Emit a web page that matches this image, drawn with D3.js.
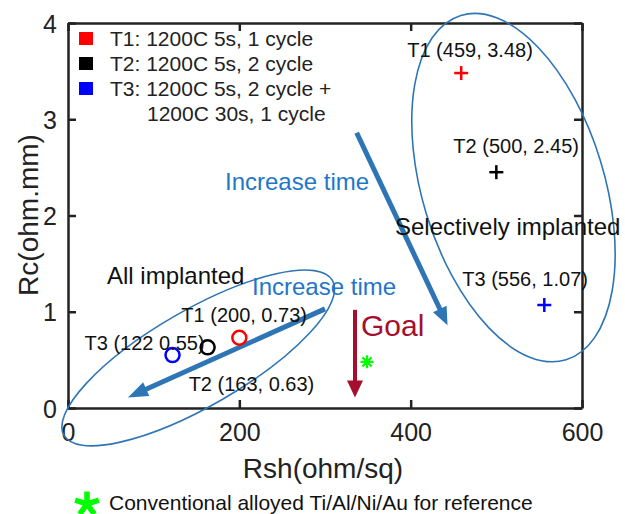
<!DOCTYPE html>
<html>
<head>
<meta charset="utf-8">
<script src="https://cdn.jsdelivr.net/npm/d3@7"></script>
<style>
body{margin:0;background:#fff}
svg{display:block;font-family:"Liberation Sans",Arial,sans-serif}
.axis path,.axis line{stroke:#222;stroke-width:2.5}
.axis text{font-size:25px;fill:#222;font-family:"Liberation Sans",Arial,sans-serif}
</style>
</head>
<body>
<div id="chart"></div>
<script>
// data
const seriesNames=["T1","T2","T3"]
const seriesColors=["#ff0000","#000000","#0000ff"]
const legendText=["T1: 1200C 5s, 1 cycle","T2: 1200C 5s, 2 cycle","T3: 1200C 5s, 2 cycle +"]
const legendExtra="1200C 30s, 1 cycle"
const selRsh=[459,500,556]
const selRc=[3.48,2.45,1.07]
const selLabels=["T1 (459, 3.48)","T2 (500, 2.45)","T3 (556, 1.07)"]
const allRsh=[200,163,122]
const allRc=[0.73,0.63,0.55]
const allLabels=["T1 (200, 0.73)","T2 (163, 0.63)","T3 (122 0.55)"]
const refRsh=[349]
const refRc=[0.48]
const xTicks=[0,200,400,600]
const yTicks=[0,1,2,3,4]

const width=625
const height=514

const svg=d3.select("#chart")
.append("svg")
.attr("width",width)
.attr("height",height)

const x=d3.scaleLinear().domain([0,600]).range([68,582])
const y=d3.scaleLinear().domain([0,4]).range([408,23])

// frame + ticks (inward)
const xAxis=svg.append("g").attr("class","axis")
.attr("transform","translate(0,"+y(0)+")")
.call(d3.axisBottom(x).tickValues(xTicks).tickSize(-8).tickSizeOuter(0).tickPadding(14).tickFormat(d3.format("d")))

const yAxis=svg.append("g").attr("class","axis")
.attr("transform","translate("+x(0)+",0)")
.call(d3.axisLeft(y).tickValues(yTicks).tickSize(-8).tickSizeOuter(0).tickPadding(11).tickFormat(d3.format("d")))

svg.append("g").attr("class","axis")
.attr("transform","translate(0,"+y(4)+")")
.call(d3.axisTop(x).tickValues(xTicks).tickSize(-8).tickSizeOuter(0).tickFormat(""))

svg.append("g").attr("class","axis")
.attr("transform","translate("+x(600)+",0)")
.call(d3.axisRight(y).tickValues(yTicks).tickSize(-8).tickSizeOuter(0).tickFormat(""))

xAxis.selectAll(".tick text").attr("dy",null).attr("dominant-baseline","central").attr("y",24)
yAxis.selectAll(".tick text").attr("dy",null).attr("dominant-baseline","central")

// axis titles
svg.append("text")
.attr("x",323).attr("y",468)
.attr("dy","0.35em")
.attr("text-anchor","middle")
.attr("font-size",28)
.attr("fill","#222")
.text("Rsh(ohm/sq)")

svg.append("text")
.attr("transform","translate(28,215) rotate(-90)")
.attr("dy","0.35em")
.attr("text-anchor","middle")
.attr("font-size",28)
.attr("fill","#222")
.text("Rc(ohm.mm)")

// legend
const leg=svg.append("g")
leg.selectAll("rect")
.data(seriesColors)
.enter()
.append("rect")
.attr("x",79)
.attr("y",(d,i)=>32+i*25)
.attr("width",14)
.attr("height",13)
.attr("fill",d=>d)

leg.selectAll("text")
.data(legendText.concat([legendExtra]))
.enter()
.append("text")
.attr("x",(d,i)=>i==3?147:110)
.attr("y",(d,i)=>39+i*25)
.attr("dy","0.35em")
.attr("font-size",21)
.attr("fill","#222")
.text(d=>d)

// annotation colours
const blue="#2e75b6"
const tblue="#1f77c8"
const red="#a50f2d"

// ellipses
const ellipses=[
{cx:520,cy:2.29,rx:91,ry:180,rot:-17},
{cx:152,cy:0.52,rx:155,ry:48,rot:-30}
]
svg.selectAll(".ell")
.data(ellipses)
.enter()
.append("ellipse")
.attr("class","ell")
.attr("transform",d=>"translate("+x(d.cx)+","+y(d.cy)+") rotate("+d.rot+")")
.attr("rx",d=>d.rx)
.attr("ry",d=>d.ry)
.attr("fill","none")
.attr("stroke",blue)
.attr("stroke-width",1.6)

// arrows
function arrow(a,color,w,hl,hw){
const x1=x(a.x1),y1=y(a.y1),x2=x(a.x2),y2=y(a.y2)
const dx=x2-x1,dy=y2-y1,len=Math.sqrt(dx*dx+dy*dy)
const ux=dx/len,uy=dy/len
const bx=x2-ux*hl,by=y2-uy*hl
svg.append("line")
.attr("x1",x1).attr("y1",y1).attr("x2",bx+ux*2).attr("y2",by+uy*2)
.attr("stroke",color).attr("stroke-width",w)
svg.append("path")
.attr("d","M"+x2+","+y2+"L"+(bx-uy*hw/2)+","+(by+ux*hw/2)+"L"+(bx+uy*hw/2)+","+(by-ux*hw/2)+"Z")
.attr("fill",color)
}
arrow({x1:337,y1:2.86,x2:443,y2:0.86},blue,5,18,15)
arrow({x1:300,y1:1.03,x2:70,y2:0.11},blue,5,20,15)
arrow({x1:335,y1:1.02,x2:335,y2:0.11},red,4,17,16)

// annotation texts
function label(t,px,py,size,color){
svg.append("text")
.attr("x",px).attr("y",py)
.attr("dy","0.35em")
.attr("font-size",size)
.attr("fill",color)
.text(t)
}
label("Increase time",225,182,24,tblue)
label("Increase time",252,287,24,tblue)
label("Selectively implanted",395,227,24,"#111")
label("All implanted",107,276,24,"#111")
label("Goal",361,325,30,red)

// selectively implanted points (+)
svg.selectAll(".sel")
.data(selRsh)
.enter()
.append("g")
.attr("class","sel")
.attr("transform",(d,i)=>"translate("+x(d)+","+y(selRc[i])+")")
.each(function(d,i){
const g=d3.select(this)
g.append("line").attr("x1",-7).attr("x2",7).attr("stroke",seriesColors[i]).attr("stroke-width",2.5)
g.append("line").attr("y1",-7).attr("y2",7).attr("stroke",seriesColors[i]).attr("stroke-width",2.5)
})

const selOff=[[-54,-23],[-43,-26],[-82,-26]]
svg.selectAll(".selLab")
.data(selLabels)
.enter()
.append("text")
.attr("class","selLab")
.attr("x",(d,i)=>x(selRsh[i])+selOff[i][0])
.attr("y",(d,i)=>y(selRc[i])+selOff[i][1])
.attr("dy","0.35em")
.attr("font-size",20)
.attr("fill","#111")
.text(d=>d)

// all implanted points (o)
svg.selectAll(".all")
.data(allRsh)
.enter()
.append("circle")
.attr("class","all")
.attr("cx",d=>x(d))
.attr("cy",(d,i)=>y(allRc[i]))
.attr("r",7)
.attr("fill","none")
.attr("stroke",(d,i)=>seriesColors[i])
.attr("stroke-width",2.5)

const allOff=[[-58,-23],[-19,37],[-88,-12]]
svg.selectAll(".allLab")
.data(allLabels)
.enter()
.append("text")
.attr("class","allLab")
.attr("x",(d,i)=>x(allRsh[i])+allOff[i][0])
.attr("y",(d,i)=>y(allRc[i])+allOff[i][1])
.attr("dy","0.35em")
.attr("font-size",20)
.attr("fill","#111")
.text(d=>d)

// reference point (asterisk)
function asterisk(g,n,r,sw,start){
let d=""
for(let k=0;k<n;k++){
const a=(start+k*360/n)*Math.PI/180
d+="M0,0L"+(r*Math.cos(a))+","+(r*Math.sin(a))
}
g.append("path").attr("d",d).attr("stroke","#00ff00").attr("stroke-width",sw).attr("stroke-linecap","butt")
}
svg.selectAll(".ref")
.data(refRsh)
.enter()
.append("g")
.attr("class","ref")
.attr("transform",(d,i)=>"translate("+x(d)+","+y(refRc[i])+")")
.each(function(){asterisk(d3.select(this),8,6.5,2.2,0)})

// bottom note
const note=svg.append("g").attr("transform","translate(87,504)")
asterisk(note,5,12.5,5.5,-90)
svg.append("text")
.attr("x",109).attr("y",503)
.attr("dy","0.35em")
.attr("font-size",21)
.attr("fill","#111")
.text("Conventional alloyed Ti/Al/Ni/Au for reference")
</script>
</body>
</html>
